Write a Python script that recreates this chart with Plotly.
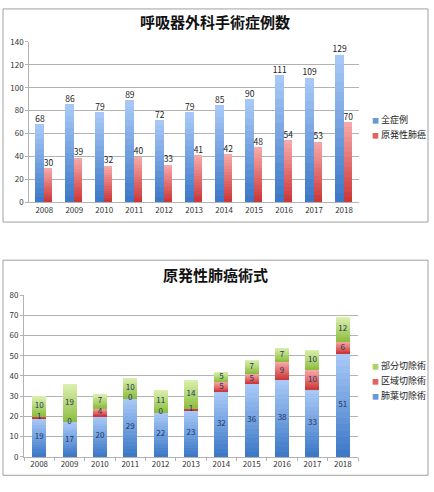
import plotly.graph_objects as go

# --- data ---
years = ["2008", "2009", "2010", "2011", "2012", "2013", "2014", "2015", "2016", "2017", "2018"]

all_cases = [68, 86, 79, 89, 72, 79, 85, 90, 111, 109, 129]      # 全症例
lung_cancer = [30, 39, 32, 40, 33, 41, 42, 48, 54, 53, 70]       # 原発性肺癌

lobectomy = [19, 17, 20, 29, 22, 23, 32, 36, 38, 33, 51]         # 肺葉切除術
segmentectomy = [1, 0, 4, 0, 0, 1, 5, 5, 9, 10, 6]               # 区域切除術
partial = [10, 19, 7, 10, 11, 14, 5, 7, 7, 10, 12]               # 部分切除術

W, H = 434, 492
FONT = "Noto Sans CJK JP"
STEPS = 16  # layers used to fake Excel's vertical gradient fill

# (bottom colour, top colour)
BLUE = ("#3a76c6", "#abcbf8")
RED = ("#cc3434", "#f8abab")
GREEN = ("#8dbd3e", "#dcf1b0")


def mix(c1, c2, t):
    a = [int(c1[i:i + 2], 16) for i in (1, 3, 5)]
    b = [int(c2[i:i + 2], 16) for i in (1, 3, 5)]
    return "rgb(%d,%d,%d)" % tuple(round(a[j] + (b[j] - a[j]) * t) for j in range(3))


def px_x(p):
    return p / W


def px_y(p):
    return 1 - p / H


xs = list(range(len(years)))
fig = go.Figure()


def gradient_bars(values, base, colors, offset, width, xa, ya):
    # tallest (lightest) layer first, shorter darker ones painted over it
    for k in range(STEPS, 0, -1):
        fig.add_trace(go.Bar(
            x=xs, y=[v * k / STEPS for v in values], base=base,
            offset=offset, width=width,
            marker=dict(color=mix(colors[0], colors[1], (k - 0.5) / STEPS), line=dict(width=0)),
            xaxis=xa, yaxis=ya, showlegend=False, hoverinfo="skip",
        ))


# 1. Top chart: grouped bars
gradient_bars(all_cases, None, BLUE, -0.285, 0.28, "x", "y")
gradient_bars(lung_cancer, None, RED, 0.0, 0.28, "x", "y")

label_font = dict(family=FONT, size=8.5, color="#222222")
fig.add_trace(go.Scatter(
    x=[i - 0.145 for i in xs], y=all_cases, text=[str(v) for v in all_cases],
    mode="text", textposition="top center", textfont=label_font,
    xaxis="x", yaxis="y", showlegend=False, cliponaxis=False, hoverinfo="skip",
))
fig.add_trace(go.Scatter(
    x=[i + 0.14 for i in xs], y=lung_cancer, text=[str(v) for v in lung_cancer],
    mode="text", textposition="top center", textfont=label_font,
    xaxis="x", yaxis="y", showlegend=False, cliponaxis=False, hoverinfo="skip",
))

# 2. Bottom chart: stacked bars
base_seg = lobectomy
base_part = [a + b for a, b in zip(lobectomy, segmentectomy)]
gradient_bars(lobectomy, [0] * len(xs), BLUE, -0.23, 0.46, "x2", "y2")
gradient_bars(segmentectomy, base_seg, RED, -0.23, 0.46, "x2", "y2")
gradient_bars(partial, base_part, GREEN, -0.23, 0.46, "x2", "y2")

stack_font = dict(family=FONT, size=8, color="#1f3763")
for values, base in [(lobectomy, [0] * len(xs)), (segmentectomy, base_seg), (partial, base_part)]:
    fig.add_trace(go.Scatter(
        x=xs, y=[b + v / 2 for b, v in zip(base, values)], text=[str(v) for v in values],
        mode="text", textposition="middle center", textfont=stack_font,
        xaxis="x2", yaxis="y2", showlegend=False, cliponaxis=False, hoverinfo="skip",
    ))

# 3. Axes
grid = "#b3b3b3"
tick_font = dict(family=FONT, size=8, color="#333333")
xcommon = dict(
    range=[-0.5, len(years) - 0.5], tickvals=xs, ticktext=years, tickfont=tick_font,
    showgrid=False, zeroline=False, showline=True, linecolor=grid, linewidth=1, fixedrange=True,
)
ycommon = dict(
    tickfont=tick_font, showgrid=True, gridcolor=grid, gridwidth=1, zeroline=False,
    showline=True, linecolor=grid, linewidth=1, ticks="outside", ticklen=3, tickcolor=grid,
    fixedrange=True,
)

fig.update_layout(
    width=W, height=H,
    margin=dict(l=0, r=0, t=0, b=0),
    paper_bgcolor="white", plot_bgcolor="white",
    barmode="overlay", bargap=0,
    font=dict(family=FONT, color="#222222"),
    showlegend=False,
    xaxis=dict(xcommon, domain=[px_x(29.3), px_x(359)], anchor="y", ticks=""),
    yaxis=dict(ycommon, domain=[px_y(200.7), px_y(36.7)], anchor="x", range=[0, 140], dtick=20),
    xaxis2=dict(xcommon, domain=[px_x(24), px_x(358)], anchor="y2", ticks="",
                minor=dict(tickvals=[i - 0.5 for i in range(len(years) + 1)],
                           ticks="outside", ticklen=3, tickcolor=grid)),
    yaxis2=dict(ycommon, domain=[px_y(461), px_y(295.7)], anchor="x2", range=[0, 80], dtick=10),
)

# 4. Chart frames, titles and legends
frame = dict(type="rect", xref="paper", yref="paper", line=dict(color="#a0a0a0", width=1),
             fillcolor="rgba(0,0,0,0)", layer="below")
fig.add_shape(frame, x0=px_x(3), x1=px_x(428), y0=px_y(221), y1=px_y(3))
fig.add_shape(frame, x0=px_x(3), x1=px_x(428), y0=px_y(480), y1=px_y(260))

title_font = dict(family=FONT, size=15, color="#111111")
fig.add_annotation(text="<b>呼吸器外科手術症例数</b>", x=px_x(215), y=px_y(16), xref="paper", yref="paper",
                   yanchor="middle", showarrow=False, font=title_font)
fig.add_annotation(text="<b>原発性肺癌術式</b>", x=px_x(215), y=px_y(275), xref="paper", yref="paper",
                   yanchor="middle", showarrow=False, font=title_font)

legend_items = [
    ("全症例", BLUE, 116),
    ("原発性肺癌", RED, 131),
    ("部分切除術", GREEN, 368),
    ("区域切除術", RED, 383),
    ("肺葉切除術", BLUE, 398),
]
for name, colors, ypix in legend_items:
    fig.add_annotation(
        text="<span style='color:%s;font-size:7px'>■</span> %s" % (mix(colors[0], colors[1], 0.4), name),
        x=px_x(370), y=px_y(ypix), xref="paper", yref="paper", xanchor="left", yanchor="middle",
        showarrow=False, font=dict(family=FONT, size=9, color="#222222"),
    )

# the default page has an 8px body margin; drop it so the figure fills the window
fig.write_html(
    "out.html",
    config={"displayModeBar": False},
    post_script="document.body.style.margin='0';document.documentElement.style.overflow='hidden';",
)
